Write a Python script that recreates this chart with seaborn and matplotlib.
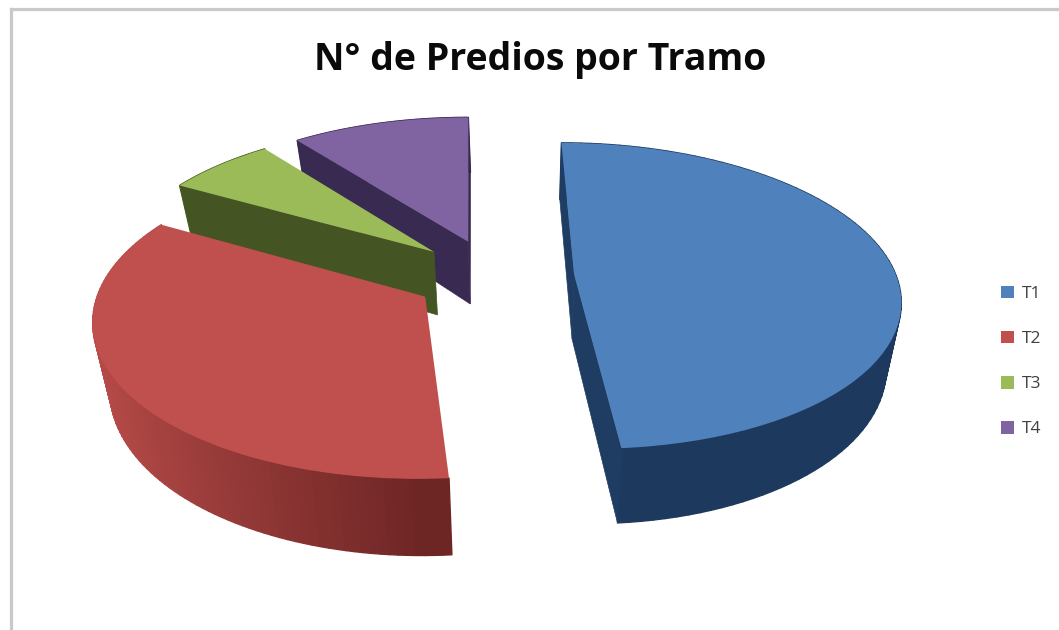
import numpy as np
import matplotlib
matplotlib.use("Agg")
import matplotlib.pyplot as plt
from matplotlib.collections import PolyCollection
from matplotlib.patches import Polygon
from matplotlib.transforms import Transform
import seaborn as sns

TITLE = "N° de Predios por Tramo"
labels = ["T1", "T2", "T3", "T4"]
values = [48.7, 34.5, 6.4, 10.4]
colors = ["#4f81bd", "#c0504d", "#9bbb59", "#8064a2"]
rim_dark = ["#1d3a5e", "#6e2625", "#445523", "#392a52"]
rim_light = ["#2a4f7e", "#ba4d4a", "#5d7530", "#4c3a6a"]
wall = ["#1f3c62", "#7a2a29", "#445523", "#392a52"]

sns.set_theme(style="white")
plt.rcParams["font.family"] = ["Open Sans", "DejaVu Sans"]

# perspective camera of the 3D pie
VX, VY, K, G, HX, A, H = 470.0, -800.0, 1076.0, 0.1398, 0.0, 322.0, 64.5
ZX, ZK = 521.0, 0.04
CENTER = (0.0742, 0.0)
EXPLODE = 0.25


def project(x, y, z=0.0):
    w = 1 + G * y + HX * (x - CENTER[0])
    X = VX + A * x / w
    Y = VY + K / w + z * H / w
    X = X + (ZX - X) * ZK * z
    return X, Y


class Persp(Transform):
    input_dims = output_dims = 2
    is_separable = False
    has_inverse = False

    def transform_non_affine(self, v):
        v = np.asarray(v, float)
        return np.column_stack(project(v[:, 0], v[:, 1]))


def wall_visible(cx, cy, t, tm):
    ax0, ay0 = project(cx, cy, 0)
    ex, ey = project(cx + np.cos(t), cy + np.sin(t), 0)
    mx, my = project(cx + np.cos(tm), cy + np.sin(tm), 0)
    bx, by = project(cx, cy, 1)
    dx, dy = ex - ax0, ey - ay0
    inner = dx * (my - ay0) - dy * (mx - ax0)
    drop = dx * (by - ay0) - dy * (bx - ax0)
    return inner * drop < 0


fig = plt.figure(figsize=(10.59, 6.30), dpi=100, facecolor="white")
ax = fig.add_axes([10.5 / 1059, 0, 1 - 10.5 / 1059, (630 - 9) / 630])

wedges, _ = ax.pie(values, explode=[EXPLODE] * len(values), colors=colors,
                   startangle=90, counterclock=False, center=CENTER, radius=1,
                   frame=True, wedgeprops=dict(linewidth=0))
ax.set_aspect("auto")
ax.set_xlim(10.5, 1059)
ax.set_ylim(630, 9)
ax.set_xticks([])
ax.set_yticks([])
for name, sp in ax.spines.items():
    sp.set_visible(name in ("top", "left"))
    sp.set_color("#c9c9c9")
    sp.set_linewidth(2.3)

persp = Persp() + ax.transData
# painter's order: back slices first
for rank, i in enumerate([3, 2, 1, 0]):
    w = wedges[i]
    cx, cy = w.center
    t1, t2 = np.radians(w.theta1), np.radians(w.theta2)
    base = 10 + 3 * rank
    # outer rim
    ts = np.linspace(t1, t2, 90)
    quads, cols = [], []
    dark = np.array(matplotlib.colors.to_rgb(rim_dark[i]))
    light = np.array(matplotlib.colors.to_rgb(rim_light[i]))
    for a, b in zip(ts[:-1], ts[1:]):
        xa, ya = cx + np.cos(a), cy + np.sin(a)
        xb, yb = cx + np.cos(b), cy + np.sin(b)
        quads.append([project(xa, ya, 0), project(xb, yb, 0), project(xb, yb, 1), project(xa, ya, 1)])
        k = max(0.0, -np.cos((a + b) / 2))
        cols.append(dark + (light - dark) * k)
    ax.add_collection(PolyCollection(quads, facecolors=cols, edgecolors=cols, linewidths=1.0, zorder=base))
    # radial walls that face the viewer
    for t in (t1, t2):
        if not wall_visible(cx, cy, t, (t1 + t2) / 2):
            continue
        ex, ey = cx + np.cos(t), cy + np.sin(t)
        pts = [project(cx, cy, 0), project(ex, ey, 0), project(ex, ey, 1), project(cx, cy, 1)]
        ax.add_patch(Polygon(pts, closed=True, fc=wall[i], ec=wall[i], lw=0.5, zorder=base + 1))
    w.set_transform(persp)
    w.set_zorder(base + 2)

ax.text(540, 70, TITLE, ha="center", va="baseline", fontsize=27, fontweight="bold", color="#0a0a0a")

leg = ax.legend(wedges, labels, loc="center left", bbox_to_anchor=(1001, 361.5),
                bbox_transform=ax.transData, frameon=False, fontsize=12.5,
                handlelength=0.75, handleheight=0.75, handletextpad=0.45,
                labelspacing=1.65, borderpad=0, borderaxespad=0,
                labelcolor="#404040")

fig.savefig("out.png", dpi=100)
